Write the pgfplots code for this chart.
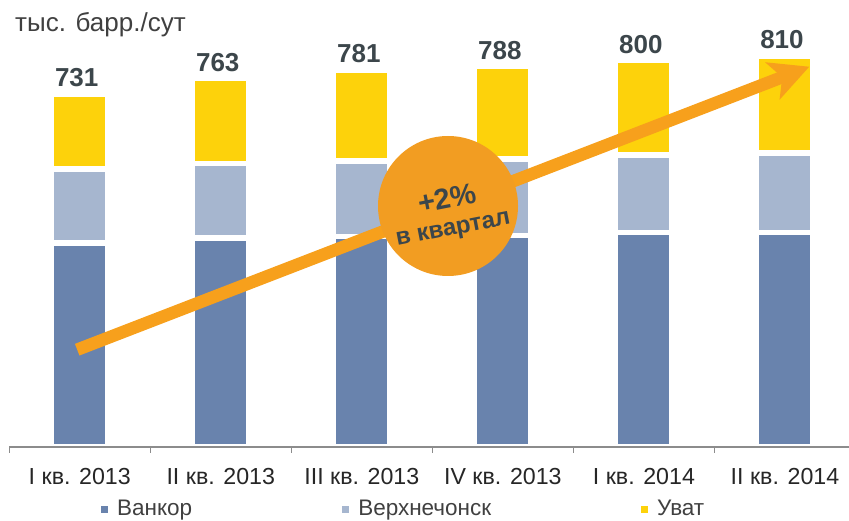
\documentclass[border=0pt]{standalone}
\usepackage{fontspec}
\setmainfont{Liberation Sans}
\usepackage{pgfplots}
\pgfplotsset{compat=1.18}
\usepackage{pgfplotstable}
\usetikzlibrary{arrows.meta}
\definecolor{vankor}{HTML}{6983AD}
\definecolor{verkh}{HTML}{A6B6CF}
\definecolor{uvat}{HTML}{FDD20B}
\definecolor{arroworange}{HTML}{F7A01C}
\definecolor{circleorange}{HTML}{F29D22}
\definecolor{labeltext}{HTML}{3C464B}
\definecolor{axisgrey}{HTML}{8C8C8C}
\definecolor{ticktext}{HTML}{262626}
\definecolor{legendtext}{HTML}{404040}

\pgfplotstableread{
x vankor verkh uvat total
0 423 152 156 731
1 433 154 176 763
2 436 156 189 781
3 438 158 192 788
4 444 160 196 800
5 444 164 202 810
}\data

\pgfplotsset{
  sqlegend/.style={legend image code/.code={\fill[##1, draw=none] (0bp,-3.5bp) rectangle (7bp,3.5bp);}},
  frame/.style={at={(9.2bp,74bp)}, anchor=south west,
    scale only axis, width=839.8bp, height=427bp,
    xmin=-0.5, xmax=5.454, ymin=0, ymax=884},
}

\begin{document}
\begin{tikzpicture}
\path[use as bounding box] (0,0) rectangle (849bp,521bp);
\begin{axis}[
  frame,
  ybar stacked, bar width=56.7bp,
  axis x line*=bottom, axis y line=none,
  axis line style={axisgrey, line width=1.8bp},
  axis on top,
  xtick={0,...,5},
  xticklabels={I кв. 2013, II кв. 2013, III кв. 2013, IV кв. 2013, I кв. 2014, II кв. 2014},
  major tick length=0pt,
  minor xtick={-0.5,0.5,1.5,2.5,3.5,4.5},
  minor tick length=6bp,
  tick align=outside,
  minor tick style={axisgrey, line width=1.2bp},
  xticklabel style={font=\fontsize{23.2bp}{27bp}\selectfont, text=ticktext, anchor=base, yshift=-37bp},
  legend columns=3,
  legend style={at={(axis description cs:0.1093,-0.1452)}, anchor=west, draw=none, fill=none,
    inner sep=0pt, font=\fontsize{22.5bp}{26bp}\selectfont, text=legendtext,
    nodes={inner sep=0pt},
    /tikz/every odd column/.append style={column sep=9bp},
    /tikz/every even column/.append style={column sep=150bp}},
  legend cell align=left,
]
\addplot[fill=vankor, draw=white, line width=5.7bp, sqlegend] table[x=x, y=vankor]{\data};
\addlegendentry{Ванкор}
\addplot[fill=verkh, draw=white, line width=5.7bp, sqlegend] table[x=x, y=verkh]{\data};
\addlegendentry{Верхнечонск}
\addplot[fill=uvat, draw=white, line width=5.7bp, sqlegend] table[x=x, y=uvat]{\data};
\addlegendentry{Уват}
\end{axis}
\begin{axis}[frame, hide axis]
\addplot[draw=none, mark=none, point meta=explicit symbolic,
  nodes near coords={\pgfplotspointmeta},
  every node near coord/.append style={font=\bfseries\fontsize{26bp}{30bp}\selectfont, text=labeltext, anchor=south, inner sep=0pt, xshift=-3bp, yshift=6.5bp}]
  table[x=x, y=total, meta=total]{\data};
\end{axis}
\draw[arroworange, line width=12.5bp, -{Stealth[length=39bp, width=39bp, inset=10bp]}] (77.2bp,171.3bp) -- (809.3bp,454.3bp);
\fill[circleorange] (448bp,315bp) circle[radius=70bp];
\node[rotate=11, align=center, inner sep=0pt, font=\bfseries\fontsize{24bp}{27.3bp}\selectfont, text=labeltext] at (450.1bp,307.2bp) {{\fontsize{29bp}{27.3bp}\selectfont +2\%}\\в квартал};
\node[anchor=base west, inner sep=0pt, font=\fontsize{26bp}{30bp}\selectfont, text=legendtext] at (15bp,489.3bp) {тыс. барр./сут};
\end{tikzpicture}
\end{document}
